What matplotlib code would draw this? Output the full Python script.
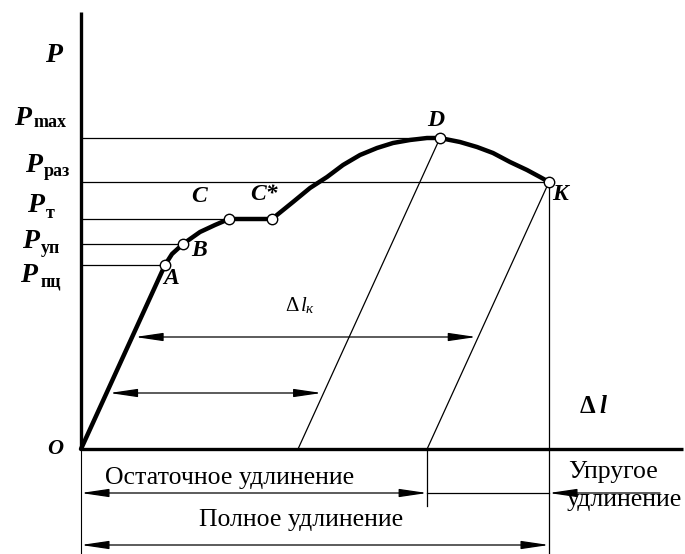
import numpy as np
import matplotlib.pyplot as plt
from matplotlib.patches import FancyArrowPatch

plt.rcParams['font.family'] = ['Liberation Serif', 'DejaVu Serif']

# tension diagram, elongation (x) and load (y) in drawing units, origin at O
curve_x = [0, 84, 91, 102, 119, 134, 148, 191, 212, 229, 246, 262, 279, 296, 312, 329, 346, 359,
           379, 396, 412, 429, 446, 459, 468]
curve_y = [0, 184, 195, 205, 217, 224, 230, 230, 247, 261, 272, 284, 294, 301, 306, 309, 311, 311,
           307, 302, 296, 287, 279, 272, 267]

point_names = ['A', 'B', 'C', 'C*', 'D', 'K']
point_x = [84, 102, 148, 191, 359, 468]
point_y = [184, 205, 230, 230, 311, 267]

level_names = ['max', 'раз', 'т', 'уп', 'пц']
level_y = [311, 267, 230, 205, 184]
level_end = [359, 468, 148, 102, 84]

# slope of the elastic line O-A
elastic_slope = 184 / 84
unload_from = ['D', 'K']

fig = plt.figure(figsize=(6.85, 5.54), dpi=100)
ax = fig.add_axes([0, 0, 1, 1])
ax.set_xlim(-81, 604)
ax.set_ylim(-105, 449)
ax.axis('off')

# axes
ax.plot([0, 0], [0, 437], color='black', lw=2.4, solid_capstyle='butt')
ax.plot([0, 602], [0, 0], color='black', lw=2.4, solid_capstyle='butt')
ax.plot([0, 0], [0, -105], color='black', lw=0.8)

# horizontal load levels
for ly, le in zip(level_y, level_end):
    ax.plot([0, le], [ly, ly], color='black', lw=0.9)

# unloading lines parallel to the elastic part
for name in unload_from:
    i = point_names.index(name)
    px, py = point_x[i], point_y[i]
    ax.plot([px, px - py / elastic_slope], [py, 0], color='black', lw=0.9)

# the curve
ax.plot(curve_x, curve_y, color='black', lw=3.2, solid_joinstyle='round',
        solid_capstyle='round', zorder=3)
ax.plot(point_x, point_y, 'o', ms=7.5, mfc='white', mec='black', mew=1.0, zorder=4)

# verticals
kx = point_x[point_names.index('K')]
ky = point_y[point_names.index('K')]
ax.plot([kx, kx], [ky, -105], color='black', lw=0.9)
res_x = kx - ky / elastic_slope
ax.plot([res_x, res_x], [0, -57], color='black', lw=0.9)


def arrow(x0, y0, x1, y1, style='<|-|>'):
    a = FancyArrowPatch((x0, y0), (x1, y1), arrowstyle=style + ',head_length=1.7,head_width=0.25',
                        mutation_scale=10, color='black', lw=0.9, shrinkA=0, shrinkB=0)
    ax.add_patch(a)


dx_x = point_x[point_names.index('D')]
dx_y = point_y[point_names.index('D')]
# arrows inside the diagram
arrow(112 / elastic_slope + 3, 112, res_x + 112 / elastic_slope - 2, 112)
arrow(56 / elastic_slope + 3, 56, dx_x - dx_y / elastic_slope + 56 / elastic_slope - 2, 56)

# bottom arrows
arrow(0, -44, res_x, -44)
ax.plot([res_x, kx], [-44, -44], color='black', lw=0.9)
arrow(kx, -44, 579, -44, style='<|-')
arrow(0, -96, kx, -96)

# texts
bi = dict(fontweight='bold', fontstyle='italic', color='black')
ax.text(-36, 394, 'P', fontsize=20, ha='left', va='center', **bi)
sub_pos = [(-67, 324, -47, 322), (-56, 277, -37, 273), (-54, 237, -35, 231),
           (-59, 201, -40, 196), (-61, 167, -40, 162)]
for name, (xp, yp, xs, ys) in zip(level_names, sub_pos):
    ax.text(xp, yp, 'P', fontsize=20, ha='left', va='baseline', **bi)
    ax.text(xs, ys, name, fontsize=13, fontweight='bold', ha='left', va='baseline')

label_off = [(6, -13), (16, -6), (-30, 23), (-8, 24), (-4, 18), (11, -13)]
for name, x, y, (ox, oy) in zip(point_names, point_x, point_y, label_off):
    ax.text(x + ox, y + oy, name, fontsize=17, ha='center', va='center', **bi)

ax.text(-26, 0, 'O', fontsize=16, ha='center', va='center', **bi)
ax.text(204, 138, 'Δ', fontsize=15, ha='left', va='baseline')
ax.text(220, 138, 'l', fontsize=15, fontstyle='italic', ha='left', va='baseline')
ax.text(225, 136, 'к', fontsize=11, fontstyle='italic', ha='left', va='baseline')
ax.text(499, 36, 'Δ', fontsize=18, fontweight='bold', ha='left', va='baseline')
ax.text(518, 36, 'l', fontsize=18, ha='left', va='baseline', **bi)

ax.text(149, -29, 'Остаточное удлинение', fontsize=18.5, ha='center', va='center')
ax.text(220, -71, 'Полное удлинение', fontsize=18.5, ha='center', va='center')
ax.text(532, -23, 'Упругое', fontsize=18.5, ha='center', va='center')
ax.text(543, -51, 'удлинение', fontsize=18.5, ha='center', va='center')

fig.savefig('out.png', dpi=100, facecolor='white')
